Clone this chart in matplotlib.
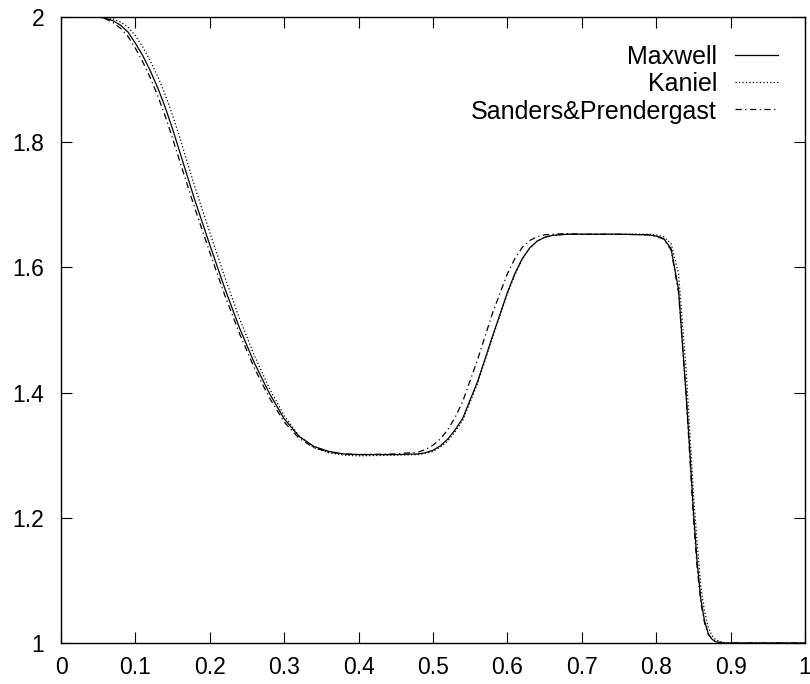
import numpy as np
import matplotlib
matplotlib.use("Agg")
import matplotlib.pyplot as plt
from matplotlib.ticker import FuncFormatter, MultipleLocator

# density profiles for the three schemes
x = [0.00, 0.05, 0.06, 0.07, 0.08, 0.09, 0.10, 0.11, 0.12, 0.13, 0.14, 0.15,
     0.16, 0.17, 0.18, 0.20, 0.22, 0.24, 0.26, 0.28, 0.30, 0.32, 0.34, 0.36,
     0.38, 0.40, 0.45, 0.48, 0.49, 0.50, 0.51, 0.52, 0.53, 0.54, 0.56, 0.58,
     0.60, 0.61, 0.62, 0.63, 0.64, 0.65, 0.66, 0.68, 0.70, 0.75, 0.79, 0.80,
     0.81, 0.82, 0.83, 0.84, 0.845, 0.85, 0.855, 0.86, 0.865, 0.87, 0.875,
     0.88, 0.89, 0.90, 1.00]

maxwell = [2.000, 2.000, 1.998, 1.994, 1.987, 1.976, 1.958, 1.938, 1.914, 1.887,
           1.856, 1.821, 1.783, 1.745, 1.707, 1.636, 1.567, 1.503, 1.447, 1.399,
           1.358, 1.330, 1.314, 1.306, 1.302, 1.301, 1.301, 1.302, 1.304, 1.308,
           1.315, 1.326, 1.341, 1.359, 1.418, 1.490, 1.560, 1.590, 1.614, 1.631,
           1.642, 1.648, 1.651, 1.653, 1.653, 1.653, 1.652, 1.650, 1.646, 1.630,
           1.565, 1.400, 1.310, 1.210, 1.130, 1.070, 1.035, 1.015, 1.006, 1.002,
           1.000, 1.000, 1.000]

kaniel = [2.000, 2.000, 1.999, 1.997, 1.992, 1.984, 1.970, 1.952, 1.930, 1.905,
          1.876, 1.843, 1.806, 1.767, 1.728, 1.656, 1.585, 1.518, 1.459, 1.407,
          1.363, 1.331, 1.312, 1.304, 1.300, 1.299, 1.300, 1.301, 1.303, 1.306,
          1.313, 1.323, 1.338, 1.356, 1.415, 1.488, 1.558, 1.588, 1.613, 1.631,
          1.642, 1.648, 1.651, 1.653, 1.653, 1.653, 1.653, 1.652, 1.649, 1.638,
          1.590, 1.440, 1.340, 1.240, 1.160, 1.090, 1.050, 1.025, 1.012, 1.005,
          1.001, 1.000, 1.000]

sanders = [2.000, 2.000, 1.997, 1.991, 1.982, 1.969, 1.950, 1.928, 1.903, 1.874,
           1.842, 1.806, 1.768, 1.731, 1.694, 1.624, 1.556, 1.494, 1.439, 1.392,
           1.353, 1.327, 1.312, 1.305, 1.302, 1.301, 1.302, 1.305, 1.309, 1.316,
           1.326, 1.341, 1.361, 1.386, 1.453, 1.527, 1.590, 1.614, 1.632, 1.643,
           1.649, 1.652, 1.653, 1.654, 1.653, 1.653, 1.652, 1.650, 1.645, 1.628,
           1.560, 1.400, 1.300, 1.200, 1.120, 1.065, 1.032, 1.014, 1.006, 1.002,
           1.000, 1.000, 1.000]

labels = ['Maxwell', 'Kaniel', 'Sanders&Prendergast']
styles = ['-', (0, (0.9, 1.6)), (0, (4.5, 2.5, 0.9, 2.5))]

plt.rcParams['font.family'] = ['Liberation Sans', 'DejaVu Sans']
plt.rcParams['lines.scale_dashes'] = False

fig = plt.figure(figsize=(8.1, 6.84), dpi=100)
ax = fig.add_axes([61/810., 41/684., 744/810., 626/684.])

lw = 0.9
for ys, ls in zip([maxwell, kaniel, sanders], styles):
    ax.plot(x, ys, color='black', lw=lw, ls=ls)

ax.set_xlim(0, 1)
ax.set_ylim(1, 2)
ax.xaxis.set_major_locator(MultipleLocator(0.1))
ax.yaxis.set_major_locator(MultipleLocator(0.2))
fmt = FuncFormatter(lambda v, p: '%g' % round(v, 2))
ax.xaxis.set_major_formatter(fmt)
ax.yaxis.set_major_formatter(fmt)
ax.tick_params(direction='in', length=8, width=0.8, top=True, right=True,
               labelsize=16.5, colors='black')
ax.tick_params(axis='x', pad=9)
ax.tick_params(axis='y', pad=12)
for s in ax.spines.values():
    s.set_linewidth(1.0)

# gnuplot-style key: right-aligned titles, sample line on the right
row_y = [0.9393, 0.8962, 0.8530]
for lab, ls, yk in zip(labels, styles, row_y):
    ax.text(0.8817, yk, lab, transform=ax.transAxes, ha='right',
            va='center_baseline', fontsize=18)
    ax.plot([0.9059, 0.9637], [yk, yk], transform=ax.transAxes,
            color='black', lw=lw, ls=ls)

fig.savefig('out.png', dpi=100)
